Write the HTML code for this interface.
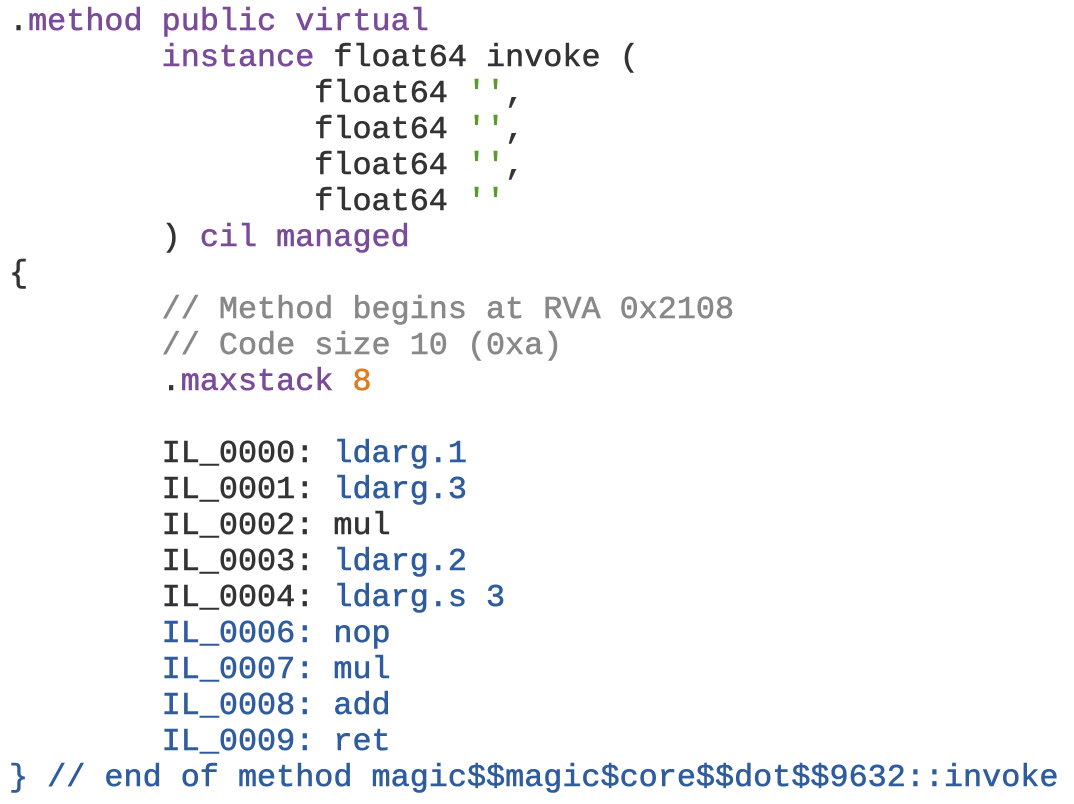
<!DOCTYPE html>
<html><head><style>
html,body{margin:0;padding:0;background:#fff;width:1074px;height:804px;overflow:hidden}
pre{margin:0;position:absolute;left:9px;top:4px;font-family:"Liberation Mono",monospace;font-size:31.8px;line-height:36px;color:#333;-webkit-text-stroke:0.6px currentColor}
.k{color:#7a4b9a}.s{color:#5a9a2a}.c{color:#888}.n{color:#e07a20}.b{color:#2f5c9e}
</style></head><body>
<pre>.<span class="k">method public virtual</span>
        <span class="k">instance</span> float64 invoke (
                float64 <span class="s">''</span>,
                float64 <span class="s">''</span>,
                float64 <span class="s">''</span>,
                float64 <span class="s">''</span>
        ) <span class="k">cil managed</span>
{
        <span class="c">// Method begins at RVA 0x2108</span>
        <span class="c">// Code size 10 (0xa)</span>
        .<span class="k">maxstack</span> <span class="n">8</span>

        IL_0000: <span class="b">ldarg.1</span>
        IL_0001: <span class="b">ldarg.3</span>
        IL_0002: mul
        IL_0003: <span class="b">ldarg.2</span>
        IL_0004: <span class="b">ldarg.s 3</span>
        <span class="b">IL_0006: nop</span>
        <span class="b">IL_0007: mul</span>
        <span class="b">IL_0008: add</span>
        <span class="b">IL_0009: ret</span>
<span class="b">} // end of method magic$$magic$core$$dot$$9632::invoke</span></pre>
</body></html>
